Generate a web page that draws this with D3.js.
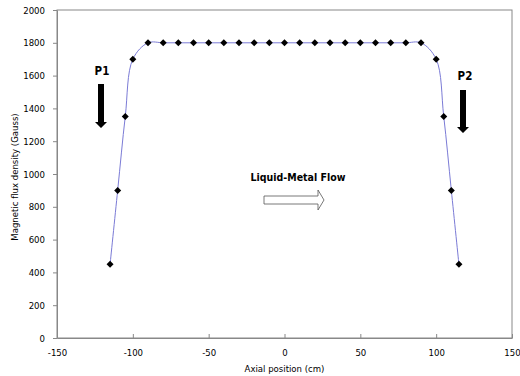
<!DOCTYPE html>
<html>
<head>
<meta charset="utf-8">
<script src="https://cdn.jsdelivr.net/npm/d3@7"></script>
<style>
  body { margin: 0; background: #fff; }
  svg { display: block; font-family: "DejaVu Sans Condensed", "DejaVu Sans", sans-serif; }
</style>
</head>
<body>
<div id="chart"></div>
<script>
// axial position (cm) and flux density (Gauss)
const positions = [-115, -110, -105, -100, -90, -80, -70, -60, -50, -40, -30, -20, -10, 0,
                   10, 20, 30, 40, 50, 60, 70, 80, 90, 100, 105, 110, 115];
const flux = [450, 900, 1350, 1700, 1800, 1800, 1800, 1800, 1800, 1800, 1800, 1800, 1800, 1800,
              1800, 1800, 1800, 1800, 1800, 1800, 1800, 1800, 1800, 1700, 1350, 900, 450];
const xTicks = [-150, -100, -50, 0, 50, 100, 150];
const yTicks = [0, 200, 400, 600, 800, 1000, 1200, 1400, 1600, 1800, 2000];

const W = 520, H = 376;
const margin = { top: 10, right: 8, bottom: 38, left: 57 };
const width = W - margin.left - margin.right,
      height = H - margin.top - margin.bottom;
const FONT = "'DejaVu Sans Condensed', 'DejaVu Sans', sans-serif";

const svg = d3.select("#chart").append("svg")
    .attr("width", W).attr("height", H);

const g = svg.append("g")
    .attr("transform", "translate(" + margin.left + "," + margin.top + ")");

const x = d3.scaleLinear().domain([-150, 150]).range([0, width]);
const y = d3.scaleLinear().domain([0, 2000]).range([height, 0]);
const fmt = d => String(d);

// plot frame
g.append("rect")
    .attr("width", width).attr("height", height)
    .attr("fill", "none").attr("stroke", "#888").attr("stroke-width", 1);

// x axis (ticks point inward)
const xAxis = g.append("g")
    .attr("transform", "translate(0," + height + ")")
    .call(d3.axisBottom(x).tickValues(xTicks).tickFormat(fmt)
      .tickSize(-4).tickPadding(11).tickSizeOuter(0));
xAxis.select(".domain").attr("stroke", "#888");
xAxis.selectAll(".tick line").attr("stroke", "#888");
xAxis.selectAll("text").attr("font-size", 9.5).attr("fill", "#000")
    .attr("font-family", FONT);

// y axis
const yAxis = g.append("g")
    .call(d3.axisLeft(y).tickValues(yTicks).tickFormat(fmt)
      .tickSize(4).tickPadding(8).tickSizeOuter(0));
yAxis.select(".domain").attr("stroke", "#888");
yAxis.selectAll(".tick line").attr("stroke", "#888");
yAxis.selectAll("text").attr("font-size", 9.5).attr("fill", "#000")
    .attr("font-family", FONT);

// axis titles
svg.append("text")
    .attr("x", margin.left + x(0)).attr("y", 372)
    .attr("text-anchor", "middle").attr("font-size", 9.5)
    .text("Axial position (cm)");
svg.append("text")
    .attr("transform", "translate(18,177) rotate(-90)")
    .attr("text-anchor", "middle").attr("font-size", 9.5)
    .text("Magnetic flux density (Gauss)");

// smoothed line
const data = positions.map((p, i) => ({ p: p, v: flux[i] }));
const line = d3.line()
    .x(d => x(d.p)).y(d => y(d.v))
    .curve(d3.curveCatmullRom.alpha(0.5));
g.append("path")
    .datum(data)
    .attr("d", line)
    .attr("fill", "none")
    .attr("stroke", "#7b7bd6")
    .attr("stroke-width", 1);

// diamond markers
g.selectAll(".pt")
    .data(data)
    .enter().append("path")
    .attr("class", "pt")
    .attr("transform", d => "translate(" + x(d.p) + "," + y(d.v) + ")")
    .attr("d", "M0,-3.5L3.5,0L0,3.5L-3.5,0Z")
    .attr("fill", "#000");

// annotations: P1 / P2 arrows
function downArrow(cx, top, bottom) {
  const bw = 3, hw = 6, hh = 6;
  svg.append("path")
    .attr("d", "M" + (cx - bw) + "," + top + "L" + (cx + bw) + "," + top +
      "L" + (cx + bw) + "," + (bottom - hh) + "L" + (cx + hw) + "," + (bottom - hh) +
      "L" + cx + "," + bottom + "L" + (cx - hw) + "," + (bottom - hh) +
      "L" + (cx - bw) + "," + (bottom - hh) + "Z")
    .attr("fill", "#000");
}
svg.append("text").attr("x", 102).attr("y", 75)
    .attr("text-anchor", "middle").attr("font-size", 11.5).attr("font-weight", "bold")
    .text("P1");
downArrow(101, 84, 128);
svg.append("text").attr("x", 465).attr("y", 80)
    .attr("text-anchor", "middle").attr("font-size", 11.5).attr("font-weight", "bold")
    .text("P2");
downArrow(463, 90, 133);

// flow label and hollow arrow
svg.append("text").attr("x", 298).attr("y", 181)
    .attr("text-anchor", "middle").attr("font-size", 10.5).attr("font-weight", "bold")
    .text("Liquid-Metal Flow");
svg.append("path")
    .attr("d", "M264,196L318,196L318,190L324,200L318,210L318,204L264,204Z")
    .attr("fill", "#fff").attr("stroke", "#555").attr("stroke-width", 0.8);
</script>
</body>
</html>
